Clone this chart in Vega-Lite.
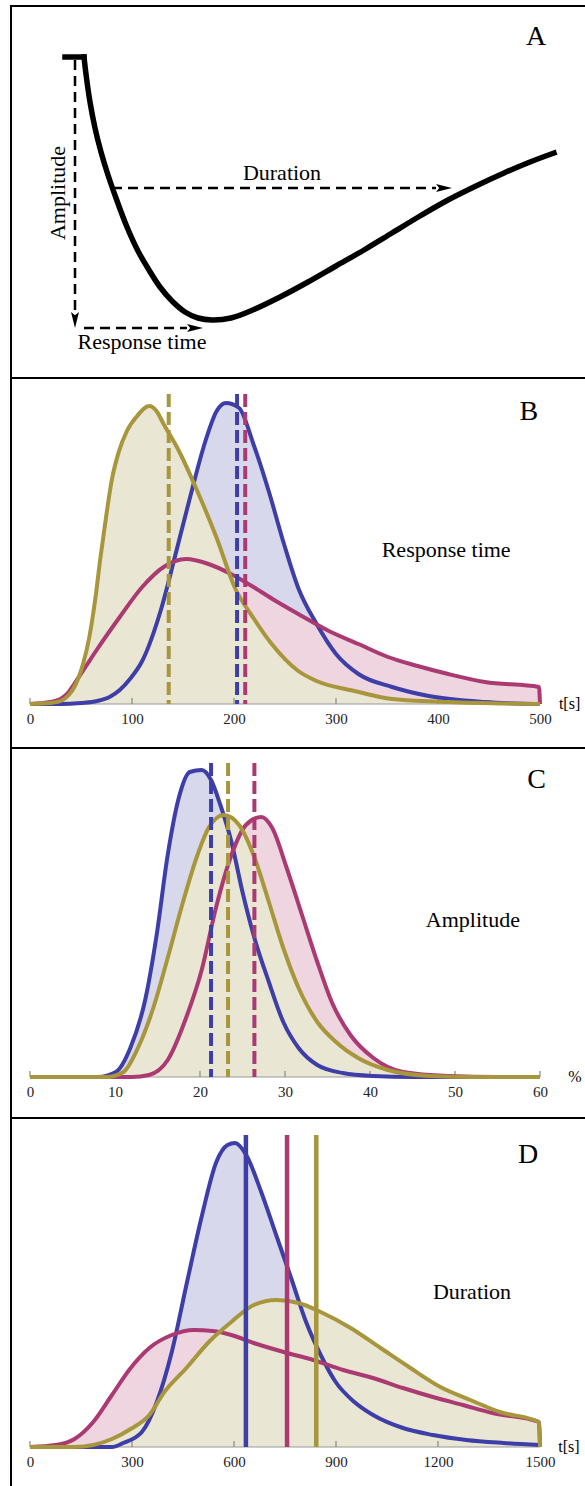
{
"$schema": "https://vega.github.io/schema/vega-lite/v6.json",
"background": "white",
"padding": {"left": 10, "top": 5, "right": 0, "bottom": 0},
"spacing": 0,
"bounds": "flush",
"resolve": {"scale": {"x": "independent", "y": "independent", "fill": "independent", "stroke": "independent", "shape": "independent"}},
"config": {
  "view": {"stroke": "black", "strokeWidth": 2},
  "text": {"font": "Liberation Serif", "color": "black"},
  "axis": {"labelFont": "Liberation Serif", "labelFontSize": 15, "labelColor": "#222", "tickColor": "#999", "tickOpacity": 0, "tickWidth": 1, "tickSize": -5, "labelPadding": 12, "domain": false, "grid": false, "title": null, "labelFlush": false, "labelOverlap": false, "zindex": 1, "format": "d"}
},
"datasets": {
  "Acurve": [
    {"seg":"flat","x":54,"y":321},{"seg":"flat","x":73,"y":321},
    {"seg":"curve","x":73,"y":321},{"seg":"curve","x":75.5,"y":300},{"seg":"curve","x":79,"y":276},{"seg":"curve","x":84,"y":250},{"seg":"curve","x":90,"y":226},{"seg":"curve","x":97,"y":203},{"seg":"curve","x":105,"y":180},{"seg":"curve","x":116,"y":151},{"seg":"curve","x":127,"y":127},{"seg":"curve","x":138,"y":108},{"seg":"curve","x":149,"y":91},{"seg":"curve","x":161,"y":77},{"seg":"curve","x":174,"y":66},{"seg":"curve","x":187,"y":60},{"seg":"curve","x":201,"y":58},{"seg":"curve","x":220,"y":60},{"seg":"curve","x":244,"y":69},{"seg":"curve","x":269,"y":81},{"seg":"curve","x":297,"y":96},{"seg":"curve","x":325,"y":112},{"seg":"curve","x":353,"y":128},{"seg":"curve","x":381,"y":145},{"seg":"curve","x":409,"y":162},{"seg":"curve","x":437,"y":178},{"seg":"curve","x":465,"y":192},{"seg":"curve","x":493,"y":205},{"seg":"curve","x":519,"y":216},{"seg":"curve","x":543,"y":225}
  ],
  "Aarrow": [
    {"seg":"amp","x":64,"y":318},{"seg":"amp","x":64,"y":66},
    {"seg":"resp","x":73,"y":50},{"seg":"resp","x":176,"y":50},
    {"seg":"dur","x":101,"y":190},{"seg":"dur","x":425,"y":190}
  ],
  "Ahead": [
    {"dir":"down","x":64,"y":58},
    {"dir":"right","x":184,"y":50},
    {"dir":"right","x":433,"y":190}
  ],
  "B": [
    {"g":"blue","x":0,"h":0},{"g":"blue","x":30,"h":0},{"g":"blue","x":50,"h":1},{"g":"blue","x":66,"h":3},{"g":"blue","x":78,"h":7},{"g":"blue","x":88,"h":14},{"g":"blue","x":98,"h":25},{"g":"blue","x":110,"h":43},{"g":"blue","x":128,"h":93},{"g":"blue","x":142,"h":147},{"g":"blue","x":157,"h":207},{"g":"blue","x":172,"h":263},{"g":"blue","x":183,"h":293},{"g":"blue","x":192,"h":301},{"g":"blue","x":205,"h":296},{"g":"blue","x":219,"h":260},{"g":"blue","x":234,"h":213},{"g":"blue","x":249,"h":160},{"g":"blue","x":263,"h":116},{"g":"blue","x":281,"h":80},{"g":"blue","x":300,"h":50},{"g":"blue","x":322,"h":30},{"g":"blue","x":355,"h":17},{"g":"blue","x":391,"h":8},{"g":"blue","x":446,"h":2},{"g":"blue","x":500,"h":0},
    {"g":"pink","x":0,"h":0},{"g":"pink","x":20,"h":2},{"g":"pink","x":30,"h":5},{"g":"pink","x":38,"h":12},{"g":"pink","x":44,"h":21},{"g":"pink","x":55,"h":38},{"g":"pink","x":66,"h":55},{"g":"pink","x":88,"h":87},{"g":"pink","x":110,"h":117},{"g":"pink","x":131,"h":137},{"g":"pink","x":153,"h":145},{"g":"pink","x":175,"h":140},{"g":"pink","x":197,"h":130},{"g":"pink","x":219,"h":117},{"g":"pink","x":241,"h":103},{"g":"pink","x":263,"h":90},{"g":"pink","x":293,"h":73},{"g":"pink","x":322,"h":60},{"g":"pink","x":351,"h":47},{"g":"pink","x":380,"h":38},{"g":"pink","x":410,"h":30},{"g":"pink","x":446,"h":22},{"g":"pink","x":499,"h":17},{"g":"pink","x":500,"h":0},
    {"g":"yellow","x":0,"h":0},{"g":"yellow","x":20,"h":1},{"g":"yellow","x":30,"h":3},{"g":"yellow","x":38,"h":9},{"g":"yellow","x":44,"h":18},{"g":"yellow","x":52,"h":40},{"g":"yellow","x":58,"h":66},{"g":"yellow","x":64,"h":105},{"g":"yellow","x":69,"h":146},{"g":"yellow","x":75,"h":190},{"g":"yellow","x":80,"h":223},{"g":"yellow","x":87,"h":252},{"g":"yellow","x":95,"h":273},{"g":"yellow","x":105,"h":288},{"g":"yellow","x":117,"h":298},{"g":"yellow","x":124,"h":293},{"g":"yellow","x":131,"h":280},{"g":"yellow","x":146,"h":253},{"g":"yellow","x":164,"h":213},{"g":"yellow","x":183,"h":166},{"g":"yellow","x":201,"h":116},{"g":"yellow","x":219,"h":86},{"g":"yellow","x":237,"h":60},{"g":"yellow","x":263,"h":33},{"g":"yellow","x":281,"h":23},{"g":"yellow","x":318,"h":13},{"g":"yellow","x":355,"h":5},{"g":"yellow","x":410,"h":2},{"g":"yellow","x":500,"h":0}
  ],
  "Bm": [{"g":"yellow","x":136,"top":310},{"g":"blue","x":203,"top":310},{"g":"pink","x":211,"top":310}],
  "C": [
    {"g":"blue","x":0,"h":0},{"g":"blue","x":8,"h":0},{"g":"blue","x":10.1,"h":5},{"g":"blue","x":11.8,"h":29},{"g":"blue","x":13.6,"h":79},{"g":"blue","x":14.9,"h":142},{"g":"blue","x":16.2,"h":222},{"g":"blue","x":17.5,"h":279},{"g":"blue","x":18.8,"h":305},{"g":"blue","x":20.2,"h":307},{"g":"blue","x":21.3,"h":297},{"g":"blue","x":22.4,"h":272},{"g":"blue","x":23.7,"h":235},{"g":"blue","x":25,"h":185},{"g":"blue","x":26.3,"h":142},{"g":"blue","x":28.1,"h":95},{"g":"blue","x":29.8,"h":55},{"g":"blue","x":31.6,"h":29},{"g":"blue","x":33.8,"h":12},{"g":"blue","x":36.8,"h":4},{"g":"blue","x":40.4,"h":1},{"g":"blue","x":45,"h":0},{"g":"blue","x":60,"h":0},
    {"g":"pink","x":0,"h":0},{"g":"pink","x":12,"h":0},{"g":"pink","x":14,"h":2},{"g":"pink","x":16.2,"h":17},{"g":"pink","x":18.4,"h":60},{"g":"pink","x":20.2,"h":107},{"g":"pink","x":21.9,"h":170},{"g":"pink","x":23.7,"h":222},{"g":"pink","x":25.4,"h":252},{"g":"pink","x":27.2,"h":260},{"g":"pink","x":28.5,"h":249},{"g":"pink","x":30.2,"h":209},{"g":"pink","x":32,"h":162},{"g":"pink","x":33.8,"h":115},{"g":"pink","x":35.5,"h":75},{"g":"pink","x":37.7,"h":42},{"g":"pink","x":40.4,"h":19},{"g":"pink","x":43.9,"h":5},{"g":"pink","x":49.2,"h":1},{"g":"pink","x":55,"h":0},{"g":"pink","x":60,"h":0},
    {"g":"yellow","x":0,"h":0},{"g":"yellow","x":9,"h":0},{"g":"yellow","x":11,"h":5},{"g":"yellow","x":12.7,"h":29},{"g":"yellow","x":14.5,"h":69},{"g":"yellow","x":16.2,"h":119},{"g":"yellow","x":18,"h":175},{"g":"yellow","x":19.7,"h":222},{"g":"yellow","x":21,"h":249},{"g":"yellow","x":22.8,"h":262},{"g":"yellow","x":24.6,"h":252},{"g":"yellow","x":26.3,"h":222},{"g":"yellow","x":28.1,"h":175},{"g":"yellow","x":29.8,"h":129},{"g":"yellow","x":31.6,"h":89},{"g":"yellow","x":33.8,"h":55},{"g":"yellow","x":36,"h":35},{"g":"yellow","x":38.6,"h":19},{"g":"yellow","x":42.1,"h":7},{"g":"yellow","x":47,"h":1},{"g":"yellow","x":52,"h":0},{"g":"yellow","x":60,"h":0}
  ],
  "Cm": [{"g":"blue","x":21.3,"top":314},{"g":"yellow","x":23.3,"top":314},{"g":"pink","x":26.4,"top":314}],
  "D": [
    {"g":"blue","x":0,"h":0},{"g":"blue","x":241,"h":0},{"g":"blue","x":274,"h":4},{"g":"blue","x":329,"h":15},{"g":"blue","x":373,"h":45},{"g":"blue","x":417,"h":95},{"g":"blue","x":460,"h":162},{"g":"blue","x":504,"h":229},{"g":"blue","x":548,"h":285},{"g":"blue","x":581,"h":302},{"g":"blue","x":603,"h":304},{"g":"blue","x":636,"h":292},{"g":"blue","x":680,"h":255},{"g":"blue","x":724,"h":212},{"g":"blue","x":768,"h":169},{"g":"blue","x":812,"h":125},{"g":"blue","x":855,"h":92},{"g":"blue","x":899,"h":65},{"g":"blue","x":954,"h":45},{"g":"blue","x":1009,"h":32},{"g":"blue","x":1097,"h":19},{"g":"blue","x":1185,"h":12},{"g":"blue","x":1283,"h":7},{"g":"blue","x":1393,"h":4},{"g":"blue","x":1500,"h":2},
    {"g":"pink","x":0,"h":0},{"g":"pink","x":76,"h":2},{"g":"pink","x":131,"h":8},{"g":"pink","x":186,"h":25},{"g":"pink","x":241,"h":52},{"g":"pink","x":296,"h":79},{"g":"pink","x":351,"h":99},{"g":"pink","x":417,"h":112},{"g":"pink","x":482,"h":117},{"g":"pink","x":537,"h":116},{"g":"pink","x":592,"h":112},{"g":"pink","x":658,"h":104},{"g":"pink","x":746,"h":95},{"g":"pink","x":833,"h":87},{"g":"pink","x":921,"h":77},{"g":"pink","x":1009,"h":69},{"g":"pink","x":1097,"h":59},{"g":"pink","x":1185,"h":50},{"g":"pink","x":1273,"h":42},{"g":"pink","x":1360,"h":34},{"g":"pink","x":1497,"h":25},{"g":"pink","x":1500,"h":0},
    {"g":"yellow","x":0,"h":0},{"g":"yellow","x":130,"h":0},{"g":"yellow","x":186,"h":2},{"g":"yellow","x":241,"h":8},{"g":"yellow","x":296,"h":18},{"g":"yellow","x":351,"h":32},{"g":"yellow","x":395,"h":55},{"g":"yellow","x":460,"h":79},{"g":"yellow","x":526,"h":105},{"g":"yellow","x":592,"h":125},{"g":"yellow","x":658,"h":142},{"g":"yellow","x":724,"h":147},{"g":"yellow","x":790,"h":144},{"g":"yellow","x":855,"h":135},{"g":"yellow","x":943,"h":119},{"g":"yellow","x":1031,"h":99},{"g":"yellow","x":1119,"h":79},{"g":"yellow","x":1207,"h":60},{"g":"yellow","x":1295,"h":47},{"g":"yellow","x":1382,"h":35},{"g":"yellow","x":1497,"h":25},{"g":"yellow","x":1500,"h":0}
  ],
  "Dm": [{"g":"blue","x":635,"top":312},{"g":"pink","x":756,"top":312},{"g":"yellow","x":842,"top":312}]
},
"vconcat": [
  {
    "width": 580, "height": 372,
    "layer": [
      {"data": {"name": "Acurve"}, "mark": {"type": "line", "interpolate": "catmull-rom", "color": "black", "strokeWidth": 5.5, "strokeCap": "square", "strokeJoin": "miter"},
       "encoding": {"x": {"field": "x", "type": "quantitative", "scale": {"domain": [0, 580], "nice": false, "zero": false}, "axis": null},
                    "y": {"field": "y", "type": "quantitative", "scale": {"domain": [0, 372], "nice": false, "zero": false}, "axis": null},
                    "detail": {"field": "seg"}}},
      {"data": {"name": "Aarrow"}, "mark": {"type": "line", "color": "black", "strokeWidth": 2.5, "strokeDash": [10, 6]},
       "encoding": {"x": {"field": "x", "type": "quantitative"}, "y": {"field": "y", "type": "quantitative"}, "detail": {"field": "seg"}}},
      {"data": {"name": "Ahead"}, "mark": {"type": "point", "filled": true, "color": "black", "opacity": 1, "size": 256},
       "encoding": {"x": {"field": "x", "type": "quantitative"}, "y": {"field": "y", "type": "quantitative"},
                    "shape": {"field": "dir", "type": "nominal", "scale": {"domain": ["right", "down"], "range": ["M1,0L-1,-0.5L-0.6,0L-1,0.5Z", "M0,1L-0.5,-1L0,-0.6L0.5,-1Z"]}, "legend": null}}},
      {"data": {"values": [{}]}, "mark": {"type": "text", "fontSize": 22}, "encoding": {"x": {"datum": 271}, "y": {"datum": 205}, "text": {"value": "Duration"}}},
      {"data": {"values": [{}]}, "mark": {"type": "text", "fontSize": 22}, "encoding": {"x": {"datum": 131}, "y": {"datum": 36}, "text": {"value": "Response time"}}},
      {"data": {"values": [{}]}, "mark": {"type": "text", "fontSize": 22, "angle": 270}, "encoding": {"x": {"datum": 47}, "y": {"datum": 185}, "text": {"value": "Amplitude"}}},
      {"data": {"values": [{}]}, "mark": {"type": "text", "fontSize": 28}, "encoding": {"x": {"datum": 525}, "y": {"datum": 341}, "text": {"value": "A"}}}
    ]
  },
  {
    "width": 580, "height": 370,
    "layer": [
      {"data": {"name": "B"}, "mark": {"type": "area", "interpolate": "monotone"},
       "encoding": {"x": {"field": "x", "type": "quantitative", "scale": {"domain": [-18.63, 550], "nice": false, "zero": false}, "axis": {"values": [0, 100, 200, 300, 400, 500], "offset": -44, "labelFontSize": 15, "labelFont": "Liberation Serif"}},
                    "y": {"field": "h", "type": "quantitative", "stack": null, "scale": {"domain": [-44, 326], "nice": false, "zero": false}, "axis": null},
                    "y2": {"datum": 0},
                    "fill": {"field": "g", "type": "nominal", "scale": {"domain": ["blue", "pink", "yellow"], "range": ["#d8d8ec", "#eed5e0", "#eae6d4"]}, "legend": null}}},
      {"data": {"values": [{}]}, "mark": {"type": "rule", "color": "#999", "strokeWidth": 1}, "encoding": {"x": {"datum": 0}, "x2": {"datum": 500}, "y": {"datum": 0}}},
      {"data": {"values": [{"t":0},{"t":100},{"t":200},{"t":300},{"t":400},{"t":500}]}, "mark": {"type": "rule", "color": "#888", "strokeWidth": 1.2}, "encoding": {"x": {"field": "t", "type": "quantitative"}, "y": {"datum": 0}, "y2": {"datum": 6}}},
      {"data": {"name": "B"}, "mark": {"type": "line", "interpolate": "monotone", "strokeWidth": 4, "strokeJoin": "round"},
       "encoding": {"x": {"field": "x", "type": "quantitative"}, "y": {"field": "h", "type": "quantitative"},
                    "stroke": {"field": "g", "type": "nominal", "scale": {"domain": ["blue", "pink", "yellow"], "range": ["#3e3ea8", "#ab3a73", "#a8963c"]}, "legend": null}}},
      {"data": {"name": "Bm"}, "mark": {"type": "rule", "strokeWidth": 4, "strokeDash": [13, 5]},
       "encoding": {"x": {"field": "x", "type": "quantitative"}, "y": {"field": "top", "type": "quantitative"}, "y2": {"datum": 0}, "stroke": {"field": "g", "type": "nominal", "legend": null}}},
      {"data": {"values": [{}]}, "mark": {"type": "text", "fontSize": 22}, "encoding": {"x": {"datum": 408}, "y": {"datum": 154}, "text": {"value": "Response time"}}},
      {"data": {"values": [{}]}, "mark": {"type": "text", "fontSize": 28}, "encoding": {"x": {"datum": 489}, "y": {"datum": 292}, "text": {"value": "B"}}},
      {"data": {"values": [{}]}, "mark": {"type": "text", "fontSize": 16}, "encoding": {"x": {"datum": 529}, "y": {"datum": 0}, "text": {"value": "t[s]"}}}
    ]
  },
  {
    "width": 580, "height": 370,
    "layer": [
      {"data": {"name": "C"}, "mark": {"type": "area", "interpolate": "monotone"},
       "encoding": {"x": {"field": "x", "type": "quantitative", "scale": {"domain": [-2.235, 66], "nice": false, "zero": false}, "axis": {"values": [0, 10, 20, 30, 40, 50, 60], "offset": -41, "labelFontSize": 15, "labelFont": "Liberation Serif"}},
                    "y": {"field": "h", "type": "quantitative", "stack": null, "scale": {"domain": [-41, 329], "nice": false, "zero": false}, "axis": null},
                    "y2": {"datum": 0},
                    "fill": {"field": "g", "type": "nominal", "scale": {"domain": ["blue", "pink", "yellow"], "range": ["#d8d8ec", "#eed5e0", "#eae6d4"]}, "legend": null}}},
      {"data": {"values": [{}]}, "mark": {"type": "rule", "color": "#999", "strokeWidth": 1}, "encoding": {"x": {"datum": 0}, "x2": {"datum": 60}, "y": {"datum": 0}}},
      {"data": {"values": [{"t":0},{"t":10},{"t":20},{"t":30},{"t":40},{"t":50},{"t":60}]}, "mark": {"type": "rule", "color": "#888", "strokeWidth": 1.2}, "encoding": {"x": {"field": "t", "type": "quantitative"}, "y": {"datum": 0}, "y2": {"datum": 6}}},
      {"data": {"name": "C"}, "mark": {"type": "line", "interpolate": "monotone", "strokeWidth": 4, "strokeJoin": "round"},
       "encoding": {"x": {"field": "x", "type": "quantitative"}, "y": {"field": "h", "type": "quantitative"},
                    "stroke": {"field": "g", "type": "nominal", "scale": {"domain": ["blue", "pink", "yellow"], "range": ["#3e3ea8", "#ab3a73", "#a8963c"]}, "legend": null}}},
      {"data": {"name": "Cm"}, "mark": {"type": "rule", "strokeWidth": 4, "strokeDash": [13, 5]},
       "encoding": {"x": {"field": "x", "type": "quantitative"}, "y": {"field": "top", "type": "quantitative"}, "y2": {"datum": 0}, "stroke": {"field": "g", "type": "nominal", "legend": null}}},
      {"data": {"values": [{}]}, "mark": {"type": "text", "fontSize": 22}, "encoding": {"x": {"datum": 52.1}, "y": {"datum": 157}, "text": {"value": "Amplitude"}}},
      {"data": {"values": [{}]}, "mark": {"type": "text", "fontSize": 28}, "encoding": {"x": {"datum": 59.6}, "y": {"datum": 297}, "text": {"value": "C"}}},
      {"data": {"values": [{}]}, "mark": {"type": "text", "fontSize": 16}, "encoding": {"x": {"datum": 64.1}, "y": {"datum": 0}, "text": {"value": "%"}}}
    ]
  },
  {
    "width": 580, "height": 370,
    "layer": [
      {"data": {"name": "D"}, "mark": {"type": "area", "interpolate": "monotone"},
       "encoding": {"x": {"field": "x", "type": "quantitative", "scale": {"domain": [-55.88, 1650], "nice": false, "zero": false}, "axis": {"values": [0, 300, 600, 900, 1200, 1500], "offset": -41, "labelFontSize": 15, "labelFont": "Liberation Serif", "format": "d"}},
                    "y": {"field": "h", "type": "quantitative", "stack": null, "scale": {"domain": [-41, 329], "nice": false, "zero": false}, "axis": null},
                    "y2": {"datum": 0},
                    "fill": {"field": "g", "type": "nominal", "scale": {"domain": ["blue", "pink", "yellow"], "range": ["#d8d8ec", "#eed5e0", "#eae6d4"]}, "legend": null}}},
      {"data": {"values": [{}]}, "mark": {"type": "rule", "color": "#999", "strokeWidth": 1}, "encoding": {"x": {"datum": 0}, "x2": {"datum": 1500}, "y": {"datum": 0}}},
      {"data": {"values": [{"t":0},{"t":300},{"t":600},{"t":900},{"t":1200},{"t":1500}]}, "mark": {"type": "rule", "color": "#888", "strokeWidth": 1.2}, "encoding": {"x": {"field": "t", "type": "quantitative"}, "y": {"datum": 0}, "y2": {"datum": 6}}},
      {"data": {"name": "D"}, "mark": {"type": "line", "interpolate": "monotone", "strokeWidth": 4, "strokeJoin": "round"},
       "encoding": {"x": {"field": "x", "type": "quantitative"}, "y": {"field": "h", "type": "quantitative"},
                    "stroke": {"field": "g", "type": "nominal", "scale": {"domain": ["blue", "pink", "yellow"], "range": ["#3e3ea8", "#ab3a73", "#a8963c"]}, "legend": null}}},
      {"data": {"name": "Dm"}, "mark": {"type": "rule", "strokeWidth": 4.5},
       "encoding": {"x": {"field": "x", "type": "quantitative"}, "y": {"field": "top", "type": "quantitative"}, "y2": {"datum": 0}, "stroke": {"field": "g", "type": "nominal", "legend": null}}},
      {"data": {"values": [{}]}, "mark": {"type": "text", "fontSize": 22}, "encoding": {"x": {"datum": 1300}, "y": {"datum": 155}, "text": {"value": "Duration"}}},
      {"data": {"values": [{}]}, "mark": {"type": "text", "fontSize": 28}, "encoding": {"x": {"datum": 1465}, "y": {"datum": 292}, "text": {"value": "D"}}},
      {"data": {"values": [{}]}, "mark": {"type": "text", "fontSize": 16}, "encoding": {"x": {"datum": 1585}, "y": {"datum": 0}, "text": {"value": "t[s]"}}}
    ]
  }
]
}
